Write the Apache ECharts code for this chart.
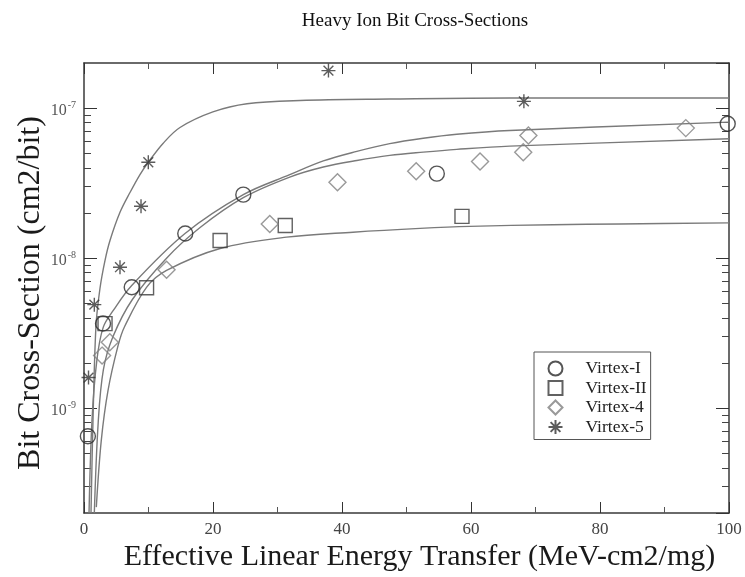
<!DOCTYPE html>
<html><head><meta charset="utf-8">
<script src="https://cdn.jsdelivr.net/npm/echarts@6/dist/echarts.min.js"></script>
<style>html,body{margin:0;padding:0;background:#fff}#c{width:745px;height:577px}</style>
</head><body><div id="c"></div>
<script>
// ---- data (LET in MeV-cm2/mg, cross-section in cm2/bit) ----
const xTickLabels = ['0','20','40','60','80','100'];
const yTickLabels = ['10^-9','10^-8','10^-7'];
const minorMultipliers = [2,3,4,5,6,7,8,9];

const virtex1 = [[0.6,6.5e-10],[2.95,3.67e-9],[7.4,6.4e-9],[15.7,1.46e-8],[24.7,2.65e-8],[54.7,3.66e-8],[99.8,7.87e-8]];
const virtex2 = [[3.26,3.66e-9],[9.7,6.35e-9],[21.1,1.31e-8],[31.2,1.65e-8],[58.6,1.9e-8]];
const virtex4 = [[2.8,2.24e-9],[4.0,2.75e-9],[12.8,8.37e-9],[28.8,1.69e-8],[39.3,3.21e-8],[51.5,3.8e-8],[61.4,4.41e-8],[68.1,5.09e-8],[68.9,6.58e-8],[93.3,7.36e-8]];
const virtex5 = [[0.7,1.6e-9],[1.6,4.9e-9],[5.58,8.7e-9],[8.84,2.22e-8],[9.97,4.36e-8],[37.9,1.78e-7],[68.2,1.11e-7]];

// fitted curves
const fitV5 = [[1.085,2.0e-10],[1.395,8.3e-10],[1.86,3.55e-9],[2.48,6.3e-9],[3.26,9.66e-9],[4.03,1.31e-8],[5.58,2.02e-8],[7.13,2.74e-8],[8.68,3.61e-8],[9.97,4.36e-8],[12.25,5.82e-8],[14.88,7.43e-8],[19.98,9.44e-8],[25.27,1.07e-7],[33.5,1.125e-7],[47.4,1.15e-7],[66,1.17e-7],[100,1.17e-7]];
const fitV1 = [[0.78,2.0e-10],[1.24,8.3e-10],[2.0,2.1e-9],[2.99,3.47e-9],[4.54,4.48e-9],[7.4,6.58e-9],[15.66,1.46e-8],[24.7,2.65e-8],[31.9,3.6e-8],[37.1,4.45e-8],[42.3,5.15e-8],[47.4,5.8e-8],[52.6,6.3e-8],[57.8,6.7e-8],[66,7.1e-8],[100,8.07e-8]];
const fitV4 = [[1.6,2.0e-10],[2.2,8.0e-10],[3.0,1.8e-9],[4.5,3.0e-9],[7.5,5.3e-9],[12.8,1.0e-8],[18,1.6e-8],[24.7,2.53e-8],[31.9,3.47e-8],[37.1,4.05e-8],[42.3,4.48e-8],[47.4,4.84e-8],[52.6,5.09e-8],[57.8,5.31e-8],[66,5.58e-8],[100,6.25e-8]];
const fitV2 = [[1.91,2.19e-10],[2.68,6.1e-10],[3.72,1.31e-9],[5.27,2.6e-9],[6.3,3.5e-9],[9.72,6.41e-9],[12.8,8.28e-9],[21.1,1.16e-8],[31.4,1.38e-8],[41.7,1.49e-8],[52.1,1.58e-8],[59.8,1.63e-8],[72.7,1.67e-8],[83.1,1.69e-8],[100,1.72e-8]];

// ---- chart ----
const SERIF = '"Liberation Serif","DejaVu Serif",serif';
const yMin = 2e-10, yMax = 2e-7;
const minorLog = [];
for (let e = -10; e <= -7; e++) minorMultipliers.forEach(m => {
  const v = Math.log10(m) + e;
  if (v > Math.log10(yMin) && v < Math.log10(yMax)) minorLog.push(v);
});
const decadeLabel = {};
yTickLabels.forEach(t => { decadeLabel[t.split('^')[1]] = t; });

const asterisk = 'path://M10,0L10,20M0,10L20,10M3,3L17,17M3,17L17,3';
const frame = {show:true, onZero:false, lineStyle:{color:'#3a3a3a', width:1.5}};
function curve(name, data){
  return {name, type:'line', data, xAxisIndex:0, yAxisIndex:0, showSymbol:false, smooth:0.35,
    lineStyle:{color:'#7a7a7a', width:1.4}, silent:true, z:2};
}
function pts(name, data, symbol, color, size){
  return {name, type:'scatter', data, xAxisIndex:0, yAxisIndex:0, symbol, symbolSize:size,
    itemStyle:{color:'none', borderColor:color, borderWidth:1.4}, z:5};
}
const chart = echarts.init(document.getElementById('c'), null, {renderer:'canvas'});
chart.setOption({
  animation:false,
  backgroundColor:'#fff',
  title:{text:'Heavy Ion Bit Cross-Sections', left:410, textAlign:'center', top:7,
    textStyle:{fontFamily:SERIF, fontSize:19, fontWeight:'normal', color:'#111'}},
  grid:{left:84, right:16, top:63, bottom:64, containLabel:false},
  legend:{orient:'vertical', left:534, top:352, data:['Virtex-I','Virtex-II','Virtex-4','Virtex-5'],
    itemWidth:14, itemHeight:14, itemGap:0.5, padding:[7,4,3,12], borderColor:'#555', borderWidth:1,
    textStyle:{fontFamily:SERIF, fontSize:17.5, lineHeight:18, color:'#222', padding:[0,0,0,18]}},
  xAxis:[
    {type:'value', position:'bottom', min:0, max:100, interval:20,
     name:'Effective Linear Energy Transfer (MeV-cm2/mg)', nameLocation:'middle', nameGap:29, nameMoveOverlap:false,
     nameTextStyle:{fontFamily:SERIF, fontSize:30, color:'#1a1a1a', padding:[0,0,0,26]},
     axisLine:frame, axisTick:{inside:true, length:11, lineStyle:{color:'#333'}},
     minorTick:{show:true, splitNumber:2, length:6, lineStyle:{color:'#555'}},
     axisLabel:{fontFamily:SERIF, fontSize:17, color:'#444', margin:8,
       formatter:v => xTickLabels[Math.round(v/20)]},
     splitLine:{show:false}},
    {type:'value', position:'top', min:0, max:100, interval:20,
     axisLine:frame, axisTick:{inside:true, length:11, lineStyle:{color:'#333'}},
     minorTick:{show:true, splitNumber:2, length:6, lineStyle:{color:'#555'}},
     axisLabel:{show:false}, splitLine:{show:false}}
  ],
  yAxis:[
    {type:'log', logBase:10, position:'left', min:yMin, max:yMax,
     name:'Bit Cross-Section (cm2/bit)', nameLocation:'middle', nameGap:37, nameMoveOverlap:false,
     nameTextStyle:{fontFamily:SERIF, fontSize:32, color:'#1a1a1a', padding:[0,10,0,0]},
     axisLine:frame, axisTick:{inside:true, length:13, lineStyle:{color:'#333'}},
     axisLabel:{showMinLabel:false, showMaxLabel:false, margin:8,
       formatter:v => { const e = String(Math.round(Math.log10(v))); const t = decadeLabel[e] || ('10^'+e); return '{b|'+t.split('^')[0]+'}{s|'+t.split('^')[1]+'}'; },
       rich:{b:{fontFamily:SERIF, fontSize:16, color:'#555', padding:[6,0,0,0]}, s:{fontFamily:SERIF, fontSize:10, color:'#555', padding:[0,0,6,1]}}},
     splitLine:{show:false}},
    {type:'log', logBase:10, position:'right', min:yMin, max:yMax,
     axisLine:frame, axisTick:{inside:true, length:13, lineStyle:{color:'#333'}},
     axisLabel:{show:false}, splitLine:{show:false}},
    {type:'value', position:'left', min:Math.log10(yMin), max:Math.log10(yMax),
     axisLine:{show:false, onZero:false}, axisTick:{inside:true, length:7, customValues:minorLog, lineStyle:{color:'#444'}},
     axisLabel:{show:false}, splitLine:{show:false}},
    {type:'value', position:'right', min:Math.log10(yMin), max:Math.log10(yMax),
     axisLine:{show:false, onZero:false}, axisTick:{inside:true, length:7, customValues:minorLog, lineStyle:{color:'#444'}},
     axisLabel:{show:false}, splitLine:{show:false}}
  ],
  series:[
    curve('fit5', fitV5), curve('fit1', fitV1), curve('fit4', fitV4), curve('fit2', fitV2),
    pts('Virtex-I', virtex1, 'circle', '#2a2a2a', 15),
    pts('Virtex-II', virtex2, 'rect', '#3a3a3a', 14),
    pts('Virtex-4', virtex4, 'diamond', '#808080', 17),
    pts('Virtex-5', virtex5, asterisk, '#333', 14)
  ]
});
</script></body></html>
